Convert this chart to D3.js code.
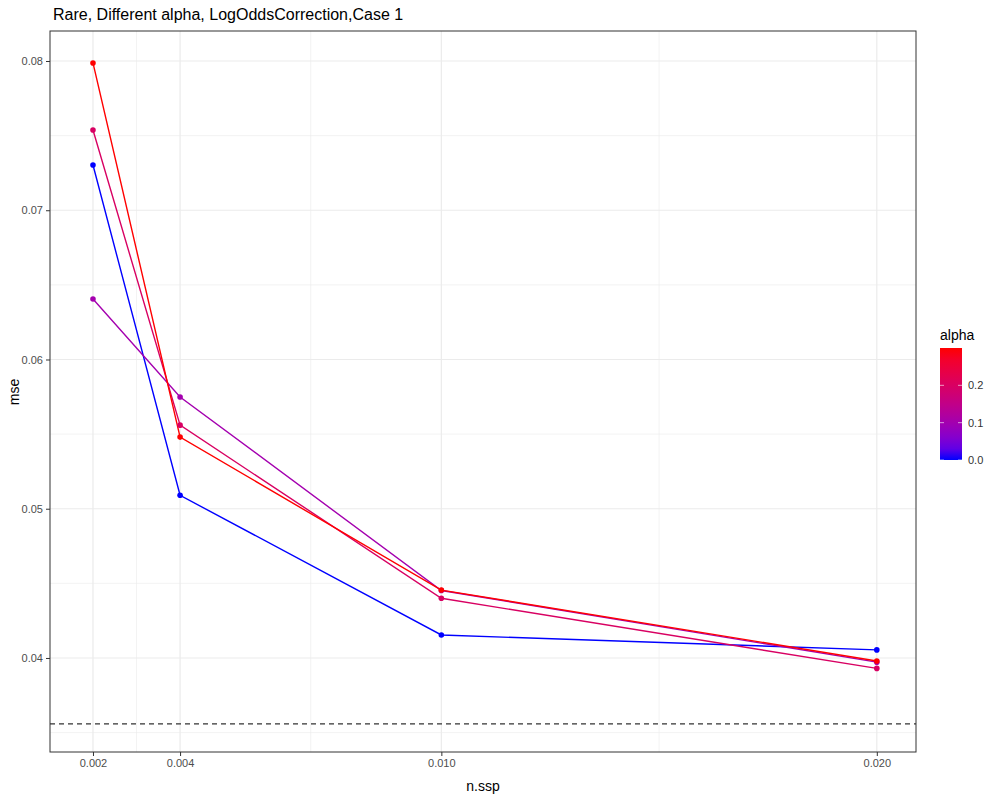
<!DOCTYPE html><html><head><meta charset="utf-8"><script src="https://cdn.jsdelivr.net/npm/d3@7"></script>
<style>body{margin:0;background:#fff}text{font-family:"Liberation Sans",Arial,sans-serif}</style></head><body>
<svg id="c" width="1000" height="800"></svg>
<script>
const nssp=[0.002,0.004,0.010,0.020];
const alphas=[0,0.1,0.2,0.3];
const mse0=[0.07303,0.0509,0.04154,0.04054];
const mse1=[0.06405,0.05749,0.04452,0.03972];
const mse2=[0.07538,0.0556,0.0440,0.0393];
const mse3=[0.07987,0.0548,0.04455,0.0398];
const series=[mse0,mse1,mse2,mse3];
const refLine=0.03558;
const xBreaks=[0.002,0.004,0.010,0.020], xMinor=[0.003,0.007,0.015];
const yBreaks=[0.04,0.05,0.06,0.07,0.08], yMinor=[0.035,0.045,0.055,0.065,0.075];
const legendBreaks=[0,0.1,0.2];

const svg=d3.select("#c");
const L=50,R=916,T=31,B=752;
const x=d3.scaleLinear().domain([0.001013,0.0209]).range([L,R]);
const y=d3.scaleLinear().domain([0.0337,0.08201]).range([B,T]);
const col=d3.scaleLinear().domain([0,0.3]).range(["#0000ff","#ff0000"]).interpolate(d3.interpolateLab);
const g=svg.append("g");
g.append("rect").attr("x",L).attr("y",T).attr("width",R-L).attr("height",B-T).attr("fill","#fff");
xMinor.forEach(v=>g.append("line").attr("x1",x(v)).attr("x2",x(v)).attr("y1",T).attr("y2",B).attr("stroke","#ebebeb").attr("stroke-width",0.6));
yMinor.forEach(v=>g.append("line").attr("y1",y(v)).attr("y2",y(v)).attr("x1",L).attr("x2",R).attr("stroke","#ebebeb").attr("stroke-width",0.6));
xBreaks.forEach(v=>g.append("line").attr("x1",x(v)).attr("x2",x(v)).attr("y1",T).attr("y2",B).attr("stroke","#ebebeb").attr("stroke-width",1.2));
yBreaks.forEach(v=>g.append("line").attr("y1",y(v)).attr("y2",y(v)).attr("x1",L).attr("x2",R).attr("stroke","#ebebeb").attr("stroke-width",1.2));
g.append("line").attr("x1",L).attr("x2",R).attr("y1",y(refLine)).attr("y2",y(refLine)).attr("stroke","#333").attr("stroke-width",1.3).attr("stroke-dasharray","5,4");
const line=d3.line().x((d,i)=>x(nssp[i])).y(d=>y(d));
series.forEach((s,k)=>{
  g.append("path").attr("d",line(s)).attr("fill","none").attr("stroke",col(alphas[k])).attr("stroke-width",1.4);
});
series.forEach((s,k)=>{
  s.forEach((v,i)=>g.append("circle").attr("cx",x(nssp[i])).attr("cy",y(v)).attr("r",2.8).attr("fill",col(alphas[k])));
});
g.append("rect").attr("x",L).attr("y",T).attr("width",R-L).attr("height",B-T).attr("fill","none").attr("stroke","#333").attr("stroke-width",1);
const xa=svg.append("g").attr("transform",`translate(0,${B})`).call(d3.axisBottom(x).tickValues(xBreaks).tickFormat(d3.format(".3f")).tickSize(4));
const ya=svg.append("g").attr("transform",`translate(${L},0)`).call(d3.axisLeft(y).tickValues(yBreaks).tickFormat(d3.format(".2f")).tickSize(4));
[xa,ya].forEach(a=>{a.select(".domain").remove();a.selectAll("line").attr("stroke","#333");a.selectAll("text").attr("fill","#4d4d4d").style("font-size","11px").style("font-family","Liberation Sans,Arial");});
svg.append("text").attr("x",483).attr("y",791).attr("text-anchor","middle").style("font-size","14px").text("n.ssp");
svg.append("text").attr("transform","translate(19,392) rotate(-90)").attr("text-anchor","middle").style("font-size","14px").text("mse");
svg.append("text").attr("x",53).attr("y",20).style("font-size","16px").text("Rare, Different alpha, LogOddsCorrection,Case 1");
// legend
svg.append("text").attr("x",940).attr("y",340).style("font-size","14px").text("alpha");
const ly=d3.scaleLinear().domain([0,0.3]).range([460,348]);
const defs=svg.append("defs");
const gr=defs.append("linearGradient").attr("id","lg").attr("x1",0).attr("x2",0).attr("y1",1).attr("y2",0);
d3.range(0,1.001,0.1).forEach(t=>gr.append("stop").attr("offset",t).attr("stop-color",col(t*0.3)));
svg.append("rect").attr("x",940).attr("y",348).attr("width",22).attr("height",112).attr("fill","url(#lg)");
legendBreaks.forEach(v=>{
  svg.append("line").attr("x1",940).attr("x2",944).attr("y1",ly(v)).attr("y2",ly(v)).attr("stroke","#fff").attr("stroke-width",0.6);
  svg.append("line").attr("x1",958).attr("x2",962).attr("y1",ly(v)).attr("y2",ly(v)).attr("stroke","#fff").attr("stroke-width",0.6);
  svg.append("text").attr("x",968).attr("y",ly(v)+4).style("font-size","11px").attr("fill","#333").text(d3.format(".1f")(v));
});
</script></body></html>
